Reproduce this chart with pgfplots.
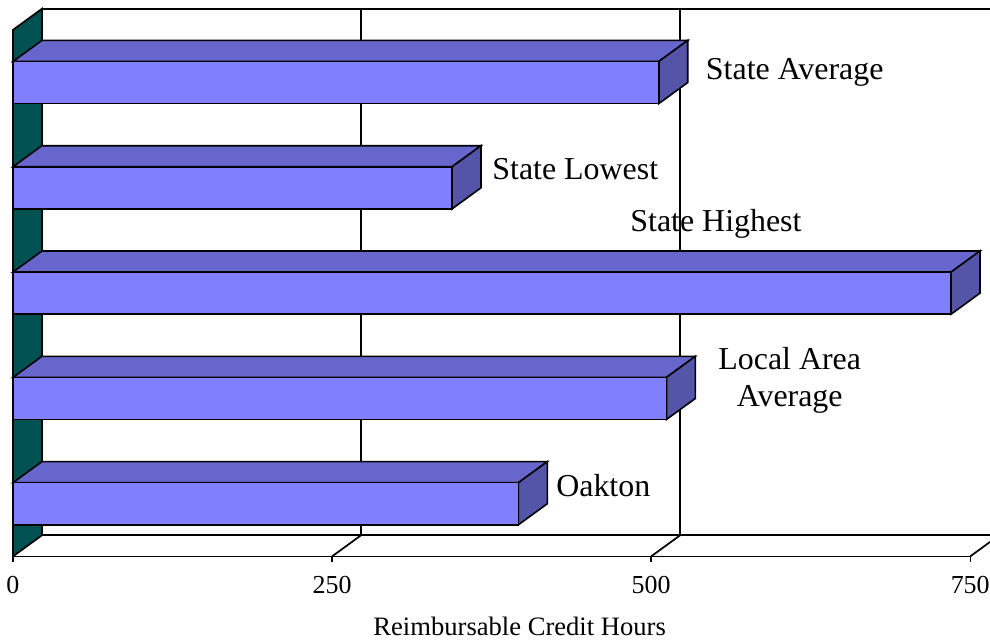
\documentclass[border=0pt]{standalone}
\usepackage{fontspec}
\setmainfont{Liberation Serif}
\usepackage{pgfplots}
\usepackage{pgfplotstable}
\pgfplotsset{compat=1.18}
\definecolor{frontc}{RGB}{128,128,255}
\definecolor{topc}{RGB}{102,102,204}
\definecolor{sidec}{RGB}{84,84,168}
\definecolor{wallc}{RGB}{0,82,82}

\pgfplotstableread{
pos val
0.5 396
1.5 512
2.5 735
3.5 344
4.5 506
}\bardata

\begin{document}
\begin{tikzpicture}
\begin{axis}[
 x=0.96pt, y=79.2pt,
 xmin=0, xmax=750, ymin=0, ymax=5,
 clip=false,
 axis x line*=bottom,
 hide y axis,
 axis line style={line width=1.3pt, -},
 xtick={0,250,500,750},
 tick align=outside,
 major tick length=4pt,
 tick style={black, line width=1pt},
 xticklabel style={font=\fontsize{19.5}{24}\selectfont, yshift=-7.5pt},
 /pgf/number format/assume math mode=true,
]
% left wall
\draw[fill=wallc, line width=1.3pt] (axis cs:0,0) -- (axis cs:0,5) -- (axis cs:22.66,5.2) -- (axis cs:22.66,0.2) -- cycle;
% back wall and floor lines
\draw[line width=1.3pt] (axis cs:22.66,5.2) -- (axis cs:772.66,5.2);
\draw[line width=1.3pt] (axis cs:22.66,0.2) -- (axis cs:772.66,0.2);
\draw[line width=1.3pt] (axis cs:272.66,0.2) -- (axis cs:272.66,5.2);
\draw[line width=1.3pt] (axis cs:522.66,0.2) -- (axis cs:522.66,5.2);
\draw[line width=1.3pt] (axis cs:772.66,0.2) -- (axis cs:772.66,5.2);
\draw[line width=1.3pt] (axis cs:250,0) -- (axis cs:272.66,0.2);
\draw[line width=1.3pt] (axis cs:500,0) -- (axis cs:522.66,0.2);
\draw[line width=1.3pt] (axis cs:750,0) -- (axis cs:772.66,0.2);
\draw[line width=1.3pt] (axis cs:0,0) -- (axis cs:750,0);

% top faces
\addplot[fill=topc, draw=black, line width=1.2pt] coordinates {(0,0.7) (396,0.7) (418.66,0.9) (22.66,0.9)} -- cycle;
\addplot[fill=topc, draw=black, line width=1.2pt] coordinates {(0,1.7) (512,1.7) (534.66,1.9) (22.66,1.9)} -- cycle;
\addplot[fill=topc, draw=black, line width=1.2pt] coordinates {(0,2.7) (735,2.7) (757.66,2.9) (22.66,2.9)} -- cycle;
\addplot[fill=topc, draw=black, line width=1.2pt] coordinates {(0,3.7) (344,3.7) (366.66,3.9) (22.66,3.9)} -- cycle;
\addplot[fill=topc, draw=black, line width=1.2pt] coordinates {(0,4.7) (506,4.7) (528.66,4.9) (22.66,4.9)} -- cycle;
% side faces
\addplot[fill=sidec, draw=black, line width=1.2pt] coordinates {(396,0.3) (396,0.7) (418.66,0.9) (418.66,0.5)} -- cycle;
\addplot[fill=sidec, draw=black, line width=1.2pt] coordinates {(512,1.3) (512,1.7) (534.66,1.9) (534.66,1.5)} -- cycle;
\addplot[fill=sidec, draw=black, line width=1.2pt] coordinates {(735,2.3) (735,2.7) (757.66,2.9) (757.66,2.5)} -- cycle;
\addplot[fill=sidec, draw=black, line width=1.2pt] coordinates {(344,3.3) (344,3.7) (366.66,3.9) (366.66,3.5)} -- cycle;
\addplot[fill=sidec, draw=black, line width=1.2pt] coordinates {(506,4.3) (506,4.7) (528.66,4.9) (528.66,4.5)} -- cycle;
% front faces
\addplot[xbar, bar width=0.4, fill=frontc, draw=black, line width=1.2pt] table[x=val, y=pos] {\bardata};

% labels
\node[font=\fontsize{24}{28}\selectfont] at (axis cs:612.5,4.60) {State Average};
\node[font=\fontsize{24}{28}\selectfont] at (axis cs:440.6,3.68) {State Lowest};
\node[font=\fontsize{24}{28}\selectfont] at (axis cs:550.8,3.16) {State Highest};
\node[font=\fontsize{24}{28}\selectfont, align=center] at (axis cs:608.6,1.67) {Local Area\\Average};
\node[font=\fontsize{24}{28}\selectfont] at (axis cs:462.5,0.67) {Oakton};
\node[font=\fontsize{20}{24}\selectfont] at (axis cs:397,-0.663) {Reimbursable Credit Hours};

\coordinate (bbll) at (axis cs:-10.16,-0.8144);
\coordinate (bbur) at (axis cs:765.5,5.284);
\end{axis}
\pgfresetboundingbox
\path (bbll) rectangle (bbur);
\end{tikzpicture}
\end{document}
